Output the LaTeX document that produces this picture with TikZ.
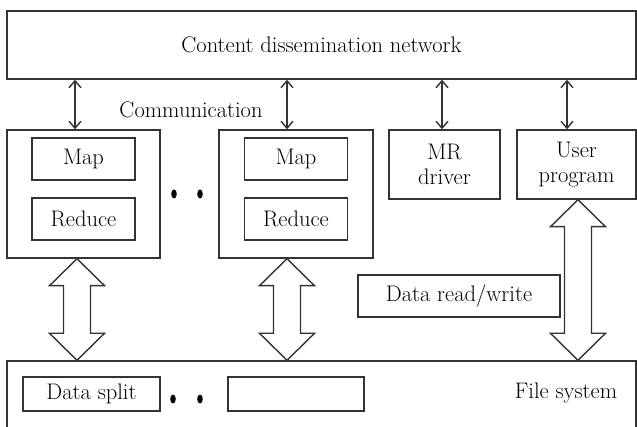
\documentclass[tikz,border=0pt]{standalone}
\usetikzlibrary{arrows.meta,calc}
\definecolor{ink}{HTML}{333333}
\begin{document}
\begin{tikzpicture}[x=1pt,y=-1pt,
  every node/.style={font=\fontsize{22.5}{25}\selectfont, text=black},
  box/.style={draw=ink, line width=1.4pt, inner sep=0pt, align=center},
  dbl/.style={draw=ink, line width=1.4pt, {Straight Barb[length=7pt,width=12pt]}-{Straight Barb[length=7pt,width=12pt]}},
  hollow/.style={draw=ink, line width=1.4pt, fill=white, line join=miter},
  dot/.style={fill=black, draw=none}]
\useasboundingbox (0,0) rectangle (637,427);
% top
\node[box, minimum width=629pt, minimum height=68pt] (cdn) at (321.5,45) {Content dissemination network};
% workers
\node[box, minimum width=153pt, minimum height=128pt] (w1) at (83.5,194) {};
\node[box, minimum width=103pt, minimum height=42pt] (m1) at (83.5,159) {Map};
\node[box, minimum width=103pt, minimum height=42pt] (r1) at (83.5,219) {Reduce};
\node[box, minimum width=154pt, minimum height=128pt] (w2) at (296,194) {};
\node[box, minimum width=103pt, minimum height=42pt] (m2) at (296,159) {Map};
\node[box, minimum width=103pt, minimum height=42pt] (r2) at (296,219) {Reduce};
\node[box, minimum width=111pt, minimum height=69pt] (mr) at (444.5,164.5) {MR\\driver};
\node[box, minimum width=119pt, minimum height=69pt] (up) at (576.5,164.5) {User\\program};
\node[box, minimum width=202pt, minimum height=42pt] (drw) at (459,296) {Data read/write};
% file system
\node[box, minimum width=629pt, minimum height=79pt] (fs) at (321.5,400.5) {};
\node[box, minimum width=137pt, minimum height=34pt] (ds) at (91.5,394) {Data split};
\node[box, minimum width=136pt, minimum height=34pt] (ds2) at (296,394) {};
\node (fst) at (566,393) {File system};
\node (comm) at (191,110) {Communication};
% dots
\fill[dot] (174,194) ellipse (2.8 and 4.5);
\fill[dot] (200,194) ellipse (2.8 and 4.5);
\fill[dot] (173,399) ellipse (2.8 and 4.5);
\fill[dot] (200,399) ellipse (2.8 and 4.5);
% small arrows
\coordinate (c1) at (75,0);
\coordinate (c2) at (287,0);
\coordinate (c3) at (442,0);
\coordinate (c4) at (567,0);
\draw[dbl] (c1 |- cdn.south) -- (c1 |- w1.north);
\draw[dbl] (c2 |- cdn.south) -- (c2 |- w2.north);
\draw[dbl] (c3 |- cdn.south) -- (c3 |- mr.north);
\draw[dbl] (c4 |- cdn.south) -- (c4 |- up.north);
% hollow arrows
\coordinate (h1) at (77,0);
\coordinate (h2) at (287,0);
\coordinate (h3) at (578,0);
\newcommand\hollowarrow[2]{%
  \draw[hollow] (#1) -- ($(#1)+(27.5,27)$) -- ($(#1)+(13.5,27)$) -- ($(#2)+(13.5,-27)$)
    -- ($(#2)+(27.5,-27)$) -- (#2) -- ($(#2)+(-27.5,-27)$) -- ($(#2)+(-13.5,-27)$)
    -- ($(#1)+(-13.5,27)$) -- ($(#1)+(-27.5,27)$) -- cycle;}
\hollowarrow{h1 |- w1.south}{h1 |- fs.north}
\hollowarrow{h2 |- w2.south}{h2 |- fs.north}
\hollowarrow{h3 |- up.south}{h3 |- fs.north}
\end{tikzpicture}
\end{document}
